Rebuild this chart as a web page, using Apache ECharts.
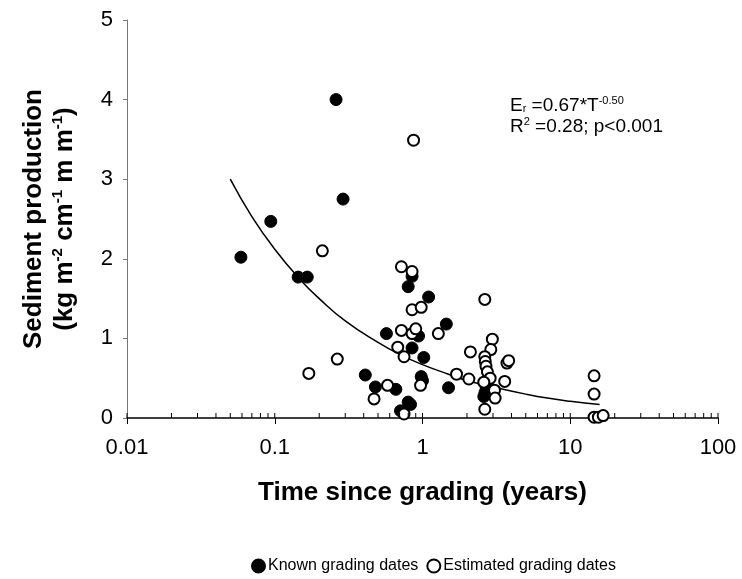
<!DOCTYPE html>
<html>
<head>
<meta charset="utf-8">
<script src="https://cdn.jsdelivr.net/npm/echarts@6/dist/echarts.min.js"></script>
<style>html,body{margin:0;padding:0;background:#fff}#c{width:742px;height:579px}</style>
</head>
<body>
<div id="c"></div>
<script>
// Known grading dates (filled): [years, sediment]
const knownX = [0.059,0.094,0.144,0.166,0.26,0.29,0.41,0.48,0.57,0.66,0.71,0.80,0.83,0.80,0.85,0.85,0.94,0.98,1.0,1.02,1.1,1.45,1.5,2.6,2.65,2.75,2.8,2.7];
const knownY = [2.02,2.47,1.77,1.77,4.0,2.75,0.54,0.39,1.06,0.36,0.09,0.20,0.17,1.65,1.78,0.88,1.03,0.52,0.47,0.76,1.52,1.18,0.38,0.27,0.32,0.45,0.5,0.38];
// Estimated grading dates (open)
const estX = [0.17,0.21,0.265,0.47,0.58,0.72,0.72,0.68,0.75,0.75,0.85,0.85,0.85,0.90,0.98,0.97,0.87,1.28,1.70,2.06,2.11,2.64,2.97,2.9,2.64,2.66,2.69,2.75,2.87,3.07,3.1,2.64,3.6,3.73,3.83,14.5,14.5,14.5,15.5,16.7,2.6];
const estY = [0.56,2.1,0.74,0.24,0.41,1.9,1.10,0.89,0.77,0.05,1.84,1.36,1.06,1.12,1.39,0.41,3.49,1.06,0.55,0.49,0.83,1.49,0.99,0.86,0.77,0.71,0.65,0.58,0.50,0.35,0.25,0.11,0.46,0.69,0.72,0.53,0.30,0.01,0.01,0.03,0.45];
// Fitted curve
const curveX = [0.05,0.07,0.1,0.15,0.2,0.3,0.5,0.7,1,1.5,2,3,5,7,10,15.8];
const curveY = [3.0,2.53,2.12,1.73,1.5,1.22,0.95,0.80,0.67,0.55,0.47,0.39,0.30,0.25,0.21,0.17];
// Axis tick values
const yTicks = [0,1,2,3,4,5];
const xMajor = [0.01,0.1,1,10,100];
const xMinor = [0.02,0.03,0.04,0.05,0.06,0.07,0.08,0.09,0.2,0.3,0.4,0.5,0.6,0.7,0.8,0.9,2,3,4,5,6,7,8,9,20,30,40,50,60,70,80,90];

const zip = (a,b) => a.map((v,i)=>[v,b[i]]);
const chart = echarts.init(document.getElementById('c'));
const FONT = 'Liberation Sans, Arial, sans-serif';

chart.setOption({
  animation: false,
  backgroundColor: '#fff',
  grid: {left: 127, right: 24, top: 20, bottom: 161, containLabel: false},
  xAxis: {
    type: 'log', logBase: 10, min: 0.01, max: 100,
    name: 'Time since grading (years)', nameLocation: 'middle', nameGap: 62,
    nameTextStyle: {fontFamily: FONT, fontSize: 26, fontWeight: 'bold', color: '#000'},
    axisLine: {lineStyle: {color: '#000', width: 1.5}},
    axisTick: {show: true, length: 6, lineStyle: {color: '#000'}},
    axisLabel: {fontFamily: FONT, fontSize: 22, color: '#000', margin: 19,
      formatter: v => String(v)},
    splitLine: {show: false}
  },
  yAxis: {
    type: 'value', min: 0, max: 5, interval: 1,
    name: 'Sediment production\n(kg m{s|-2} cm{s|-1} m m{s|-1})',
    nameLocation: 'middle', nameGap: 47, nameRotate: 90,
    nameTextStyle: {fontFamily: FONT, fontSize: 26, fontWeight: 'bold', color: '#000', lineHeight: 31,
      rich: {s: {fontFamily: FONT, fontSize: 15, fontWeight: 'bold', color: '#000', padding: [0,0,13,0]}}},
    axisLine: {show: true, lineStyle: {color: '#777', width: 1}},
    axisTick: {show: true, length: 4, lineStyle: {color: '#777'}},
    axisLabel: {fontFamily: FONT, fontSize: 22, color: '#000', margin: 14},
    splitLine: {show: false}
  },
  legend: {
    bottom: 0, left: 246, itemGap: 8, itemWidth: 13, itemHeight: 13,
    textStyle: {fontFamily: FONT, fontSize: 16, color: '#000', padding: [0,0,0,-2]},
    data: [
      {name: 'Known grading dates', icon: 'circle'},
      {name: 'Estimated grading dates', icon: 'circle'}
    ]
  },
  graphic: [{
    type: 'text', left: 510, top: 95,
    style: {
      text: '{b|E}{sub|r} {b|=0.67*T}{sup|-0.50}\n{b|R}{sup|2}{b| =0.28; p<0.001}',
      fontFamily: FONT, fontSize: 19, fill: '#000', lineHeight: 21,
      rich: {
        b: {fontFamily: FONT, fontSize: 19, fill: '#000'},
        sup: {fontFamily: FONT, fontSize: 11, fill: '#000', padding: [0,0,10,0]},
        sub: {fontFamily: FONT, fontSize: 11, fill: '#000', padding: [6,0,0,0]}
      }
    }
  }],
  series: [
    {
      name: 'fit', type: 'line', data: zip(curveX, curveY), smooth: true, showSymbol: false,
      lineStyle: {color: '#000', width: 1.5}, z: 1, silent: true
    },
    {
      name: 'Known grading dates', type: 'scatter', data: zip(knownX, knownY),
      symbol: 'circle', symbolSize: 12,
      itemStyle: {color: '#000', borderColor: '#000', borderWidth: 1, opacity: 1}, z: 3
    },
    {
      name: 'Estimated grading dates', type: 'scatter', data: zip(estX, estY),
      symbol: 'circle', symbolSize: 11,
      itemStyle: {color: '#fff', borderColor: '#000', borderWidth: 2, opacity: 1}, z: 4
    },
    {
      name: 'minorTicks', type: 'custom', silent: true, z: 5,
      data: xMinor.map(v => [v, 0]).concat(xMajor.map(v => [v, 0])),
      renderItem: (params, api) => {
        const p = api.coord([api.value(0), 0]);
        return {type: 'line', shape: {x1: p[0], y1: p[1], x2: p[0], y2: p[1] - 5},
          style: {stroke: '#000', lineWidth: 1}};
      }
    }
  ]
});
</script>
</body>
</html>
